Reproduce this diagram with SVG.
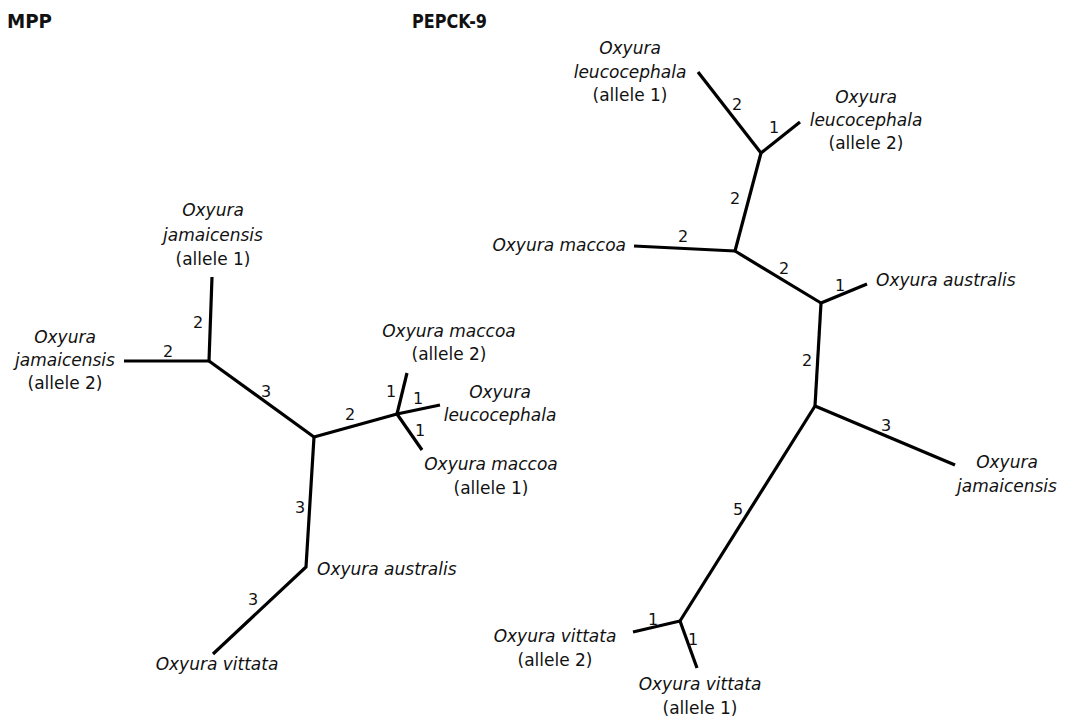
<svg xmlns="http://www.w3.org/2000/svg" width="1066" height="717" viewBox="0 0 1066 717">
<style>
.e{stroke:#000;stroke-width:3.2;fill:none;stroke-linecap:butt;stroke-linejoin:miter}
.t{font-family:"DejaVu Sans",Verdana,sans-serif;font-size:17px;font-style:italic;fill:#111}
.p{font-family:"DejaVu Sans",Verdana,sans-serif;font-size:17px;fill:#111}
.n{font-family:"DejaVu Sans",Verdana,sans-serif;font-size:16px;fill:#111;text-anchor:middle}
.h{font-family:"DejaVu Sans",Verdana,sans-serif;font-size:20px;font-weight:bold;fill:#111}
.c{text-anchor:middle}
</style>
<rect width="1066" height="717" fill="#fff"/>
<text class="h" x="7" y="28" textLength="45" lengthAdjust="spacingAndGlyphs">MPP</text>
<text class="h" x="412" y="28" textLength="75" lengthAdjust="spacingAndGlyphs">PEPCK-9</text>

<g id="connectors">
<!-- MPP -->
<polyline class="e" points="212,277 209,361 124,361"/>
<line class="e" x1="209" y1="361" x2="314" y2="437"/>
<line class="e" x1="314" y1="437" x2="397" y2="414"/>
<line class="e" x1="397" y1="414" x2="407" y2="373"/>
<line class="e" x1="397" y1="414" x2="440" y2="405"/>
<line class="e" x1="397" y1="414" x2="422" y2="450"/>
<polyline class="e" points="314,437 306,567 213,654"/>
<!-- PEPCK-9 -->
<line class="e" x1="761" y1="153" x2="698" y2="72"/>
<line class="e" x1="761" y1="153" x2="800" y2="122"/>
<line class="e" x1="761" y1="153" x2="735" y2="251"/>
<line class="e" x1="735" y1="251" x2="634" y2="246"/>
<line class="e" x1="735" y1="251" x2="821" y2="303"/>
<line class="e" x1="821" y1="303" x2="867" y2="284"/>
<line class="e" x1="821" y1="303" x2="815" y2="406"/>
<line class="e" x1="815" y1="406" x2="955" y2="465"/>
<line class="e" x1="815" y1="406" x2="680" y2="621"/>
<line class="e" x1="680" y1="621" x2="633" y2="632"/>
<line class="e" x1="680" y1="621" x2="697" y2="668"/>
</g>

<g id="branch-lengths">
<text class="n" x="198" y="328">2</text>
<text class="n" x="168" y="357">2</text>
<text class="n" x="266" y="397">3</text>
<text class="n" x="350" y="420">2</text>
<text class="n" x="391" y="397">1</text>
<text class="n" x="418" y="404">1</text>
<text class="n" x="420" y="436">1</text>
<text class="n" x="300" y="513">3</text>
<text class="n" x="253" y="605">3</text>

<text class="n" x="737" y="110">2</text>
<text class="n" x="774" y="133">1</text>
<text class="n" x="735" y="204">2</text>
<text class="n" x="683" y="242">2</text>
<text class="n" x="784" y="274">2</text>
<text class="n" x="840" y="291">1</text>
<text class="n" x="807" y="366">2</text>
<text class="n" x="886" y="431">3</text>
<text class="n" x="738" y="515">5</text>
<text class="n" x="653" y="625">1</text>
<text class="n" x="693" y="645">1</text>
</g>

<!-- MPP leaves -->
<g id="mpp-jam1"><text class="t c" x="213" y="216">Oxyura</text><text class="t c" x="213" y="241">jamaicensis</text><text class="p c" x="213" y="265">(allele 1)</text></g>
<g id="mpp-jam2"><text class="t c" x="65" y="343">Oxyura</text><text class="t c" x="65" y="366">jamaicensis</text><text class="p c" x="65" y="389">(allele 2)</text></g>
<g id="mpp-mac2"><text class="t c" x="449" y="337">Oxyura maccoa</text><text class="p c" x="449" y="360">(allele 2)</text></g>
<g id="mpp-leu"><text class="t c" x="500" y="398">Oxyura</text><text class="t c" x="500" y="421">leucocephala</text></g>
<g id="mpp-mac1"><text class="t c" x="491" y="470">Oxyura maccoa</text><text class="p c" x="491" y="494">(allele 1)</text></g>
<g id="mpp-aus"><text class="t" x="317" y="575">Oxyura australis</text></g>
<g id="mpp-vit"><text class="t c" x="217" y="670">Oxyura vittata</text></g>

<!-- PEPCK-9 leaves -->
<g id="pep-leu1"><text class="t c" x="630" y="54">Oxyura</text><text class="t c" x="630" y="78">leucocephala</text><text class="p c" x="630" y="101">(allele 1)</text></g>
<g id="pep-leu2"><text class="t c" x="866" y="103">Oxyura</text><text class="t c" x="866" y="126">leucocephala</text><text class="p c" x="866" y="149">(allele 2)</text></g>
<g id="pep-mac"><text class="t" x="626" y="251" text-anchor="end">Oxyura maccoa</text></g>
<g id="pep-aus"><text class="t" x="876" y="286">Oxyura australis</text></g>
<g id="pep-jam"><text class="t c" x="1007" y="468">Oxyura</text><text class="t c" x="1007" y="492">jamaicensis</text></g>
<g id="pep-vit2"><text class="t c" x="555" y="642">Oxyura vittata</text><text class="p c" x="555" y="666">(allele 2)</text></g>
<g id="pep-vit1"><text class="t c" x="700" y="690">Oxyura vittata</text><text class="p c" x="700" y="714">(allele 1)</text></g>
</svg>
